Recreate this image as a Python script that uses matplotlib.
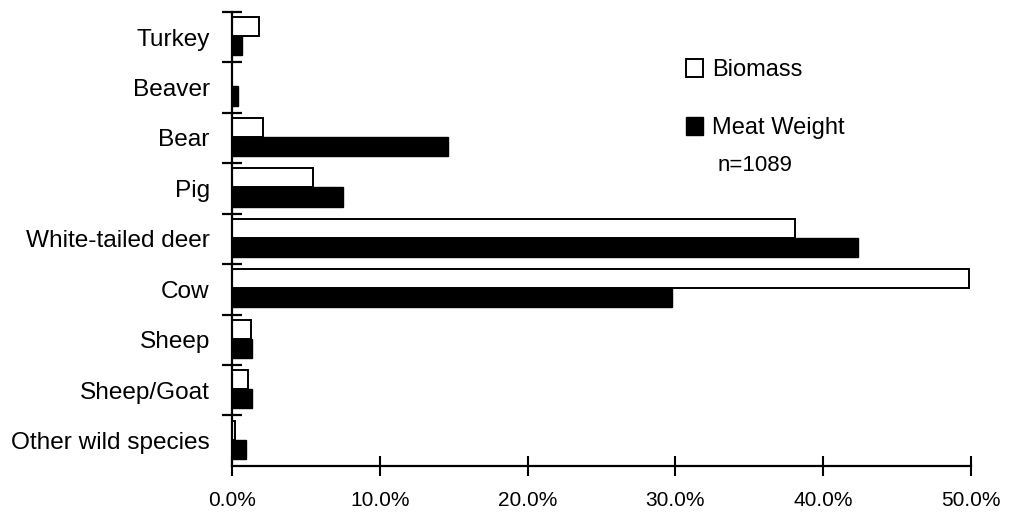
import matplotlib
matplotlib.use("Agg")
import matplotlib.pyplot as plt
from matplotlib.patches import Patch
from matplotlib.ticker import FixedLocator
import numpy as np

categories = ["Turkey", "Beaver", "Bear", "Pig", "White-tailed deer",
              "Cow", "Sheep", "Sheep/Goat", "Other wild species"]
biomass = [1.8, 0.0, 2.1, 5.5, 38.1, 49.9, 1.3, 1.1, 0.2]
meat_weight = [0.7, 0.4, 14.6, 7.5, 42.4, 29.8, 1.35, 1.35, 0.95]
xticks = [0, 10, 20, 30, 40, 50]
xtick_labels = ["0.0%", "10.0%", "20.0%", "30.0%", "40.0%", "50.0%"]

plt.rcParams['font.family'] = ['Liberation Sans', 'DejaVu Sans']

fig = plt.figure(figsize=(10.09, 5.12), dpi=100)
ax = fig.add_axes([0.23, 0.09, 0.732, 0.887])

y = np.arange(len(categories))
h = 0.38
ax.barh(y - h / 2 - 0.02, biomass, height=h, color="white",
        edgecolor="black", linewidth=1.4, label="Biomass")
ax.barh(y + h / 2 - 0.02, meat_weight, height=h, color="black",
        edgecolor="black", linewidth=1.0, label="Meat Weight")

ax.set_ylim(len(categories) - 0.5, -0.5)
ax.set_xlim(0, 50)

ax.set_yticks(y)
ax.set_yticklabels(categories, fontsize=17.6)
ax.yaxis.set_minor_locator(FixedLocator(np.arange(-0.5, len(categories) - 0.5, 1.0)))
ax.tick_params(axis="y", which="major", length=0, pad=16)
ax.tick_params(axis="y", which="minor", direction="inout", length=14, width=1.6)

ax.set_xticks(xticks)
ax.set_xticklabels(xtick_labels, fontsize=15)
ax.tick_params(axis="x", direction="inout", length=14, width=1.5, pad=11)

for side in ["top", "right"]:
    ax.spines[side].set_visible(False)
for side in ["left", "bottom"]:
    ax.spines[side].set_linewidth(1.6)

handles = [Patch(facecolor="white", edgecolor="black", linewidth=1.4, label="Biomass"),
           Patch(facecolor="black", edgecolor="black", label="Meat Weight")]
ax.legend(handles=handles, loc="upper left", bbox_to_anchor=(0.586, 0.943),
          frameon=False, fontsize=17, labelspacing=1.5, handlelength=0.7,
          handleheight=0.8, handletextpad=0.4)
ax.text(0.658, 0.662, "n=1089", transform=ax.transAxes, fontsize=16, va="center")

fig.savefig("out.png", dpi=100)
